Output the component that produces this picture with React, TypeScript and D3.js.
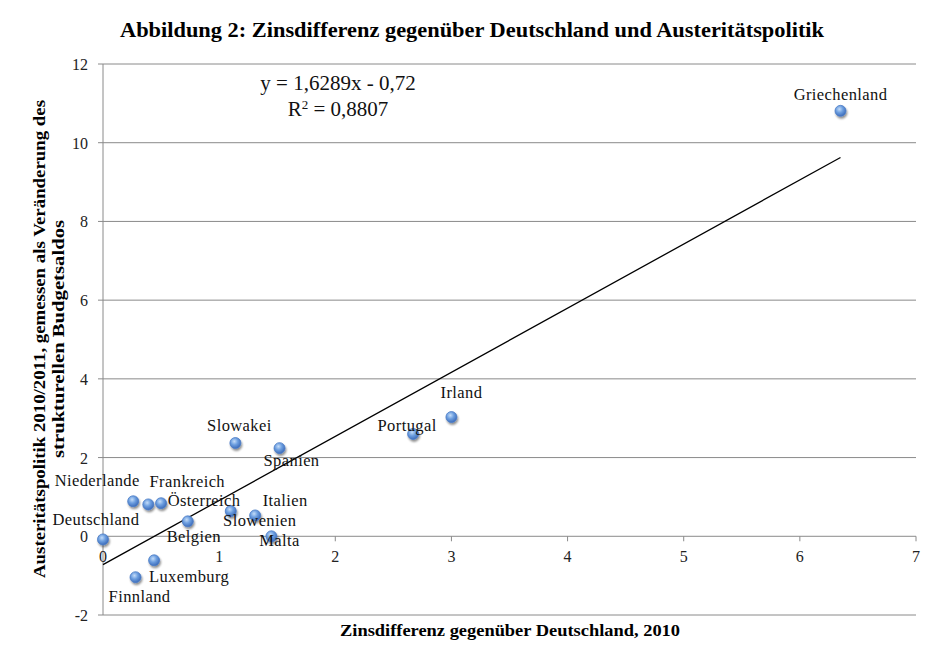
import React from "react";
import * as d3 from "d3";

const countries = ["Griechenland","Irland","Portugal","Slowakei","Spanien","Niederlande","Frankreich","Österreich","Belgien","Slowenien","Italien","Malta","Deutschland","Luxemburg","Finnland"];
const spread = [6.35, 3.0, 2.67, 1.14, 1.52, 0.26, 0.39, 0.5, 0.73, 1.1, 1.31, 1.45, 0.0, 0.44, 0.28];
const austerity = [10.81, 3.03, 2.6, 2.37, 2.24, 0.89, 0.81, 0.84, 0.38, 0.64, 0.53, 0.0, -0.08, -0.61, -1.04];
// label offsets (px) relative to point: [dx, dy]
const labelDx = [0, 10, -6, 4, 12, -36, 39, 43, 6, 29, 30, 8, -7, 35, 4];
const labelDy = [-16, -24, -8, -17, 13, -20, -22, -2, 16, 10, -14, 5, -19, 17, 20];
const xTicks = [0, 1, 2, 3, 4, 5, 6, 7];
const yTicks = [-2, 0, 2, 4, 6, 8, 10, 12];
const slope = 1.6289;
const intercept = -0.72;

const serif = "'Liberation Serif', 'DejaVu Serif', serif";

export default function App() {
  const W = 944, H = 666;
  const x = d3.scaleLinear().domain([0, 7]).range([103, 916]);
  const y = d3.scaleLinear().domain([-2, 12]).range([615, 64]);
  const xMin = 0, xMax = d3.max(spread) as number;
  const line = d3.line<number>().x(d => x(d)).y(d => y(slope * d + intercept));
  return (
    <svg width={W} height={H} style={{ position: "absolute", left: 0, top: 0, background: "#fff" }}>
      <defs>
        <radialGradient id="dot" cx="0.4" cy="0.35" r="0.7">
          <stop offset="0" stopColor="#c4dcf8" />
          <stop offset="0.45" stopColor="#6d9fe0" />
          <stop offset="1" stopColor="#3765b5" />
        </radialGradient>
        <filter id="sh" x="-50%" y="-50%" width="200%" height="200%">
          <feGaussianBlur in="SourceAlpha" stdDeviation="1.2" />
          <feOffset dx="1" dy="1.5" result="b" />
          <feComponentTransfer><feFuncA type="linear" slope="0.45" /></feComponentTransfer>
          <feMerge><feMergeNode /><feMergeNode in="SourceGraphic" /></feMerge>
        </filter>
      </defs>
      <rect width={W} height={H} fill="#fff" />
      <text x={472} y={37} textAnchor="middle" fontFamily={serif} fontWeight="bold" fontSize={21} textLength={704} lengthAdjust="spacingAndGlyphs">Abbildung 2: Zinsdifferenz gegenüber Deutschland und Austeritätspolitik</text>
      {yTicks.filter(t => t !== 0).map(t => (
        <line key={"g" + t} x1={x(0)} x2={x(7)} y1={y(t)} y2={y(t)} stroke="#8a8a8a" strokeWidth={1} />
      ))}
      <line x1={x(0)} x2={x(7)} y1={y(0)} y2={y(0)} stroke="#8a8a8a" strokeWidth={1} />
      <line x1={x(0)} x2={x(0)} y1={y(12)} y2={y(-2)} stroke="#8a8a8a" strokeWidth={1} />
      {yTicks.map(t => (
        <g key={"yt" + t}>
          <line x1={x(0) - 5} x2={x(0)} y1={y(t)} y2={y(t)} stroke="#8a8a8a" />
          <text x={88} y={y(t) + 6} textAnchor="end" fontFamily={serif} fontSize={16} fill="#222">{t}</text>
        </g>
      ))}
      {xTicks.map(t => (
        <g key={"xt" + t}>
          <line x1={x(t)} x2={x(t)} y1={y(0)} y2={y(0) + 5} stroke="#8a8a8a" />
          <text x={x(t)} y={y(0) + 26} textAnchor="middle" fontFamily={serif} fontSize={16} fill="#222">{t}</text>
        </g>
      ))}
      <path d={line([xMin, xMax]) || ""} stroke="#000" strokeWidth={1.3} fill="none" />
      {countries.map((c, i) => (
        <circle key={"p" + c} cx={x(spread[i])} cy={y(austerity[i])} r={5.5} fill="url(#dot)" stroke="#4b7cc6" strokeWidth={0.8} filter="url(#sh)" />
      ))}
      {countries.map((c, i) => (
        <text key={"l" + c} x={x(spread[i]) + labelDx[i]} y={y(austerity[i]) + labelDy[i] + 5} textAnchor="middle" fontFamily={serif} fontSize={16.5} letterSpacing={0.4} fill="#111">{c}</text>
      ))}
      <text x={338} y={90} textAnchor="middle" fontFamily={serif} fontSize={21} fill="#111">y = 1,6289x - 0,72</text>
      <text x={338} y={116} textAnchor="middle" fontFamily={serif} fontSize={21} fill="#111">R<tspan dy={-7} fontSize={13}>2</tspan><tspan dy={7}> = 0,8807</tspan></text>
      <text x={510} y={636} textAnchor="middle" fontFamily={serif} fontWeight="bold" fontSize={16} textLength={340} lengthAdjust="spacingAndGlyphs">Zinsdifferenz gegenüber Deutschland,  2010</text>
      <g transform="translate(45,339) rotate(-90)">
        <text x={0} y={0} textAnchor="middle" fontFamily={serif} fontWeight="bold" fontSize={16} textLength={478} lengthAdjust="spacingAndGlyphs">Austeritätspolitik 2010/2011, gemessen als Veränderung des</text>
        <text x={0} y={19} textAnchor="middle" fontFamily={serif} fontWeight="bold" fontSize={16} textLength={238} lengthAdjust="spacingAndGlyphs">strukturellen Budgetsaldos</text>
      </g>
    </svg>
  );
}
